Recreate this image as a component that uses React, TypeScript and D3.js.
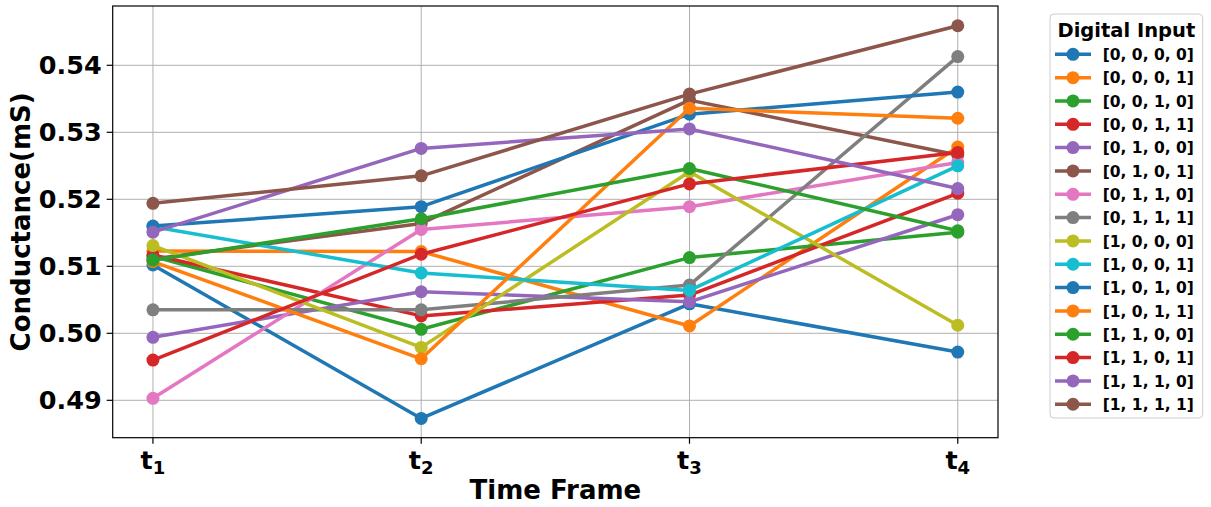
import React from "react";
import * as d3 from "d3";

const timeLabels = ["1", "2", "3", "4"];
const seriesNames = [
  "[0, 0, 0, 0]", "[0, 0, 0, 1]", "[0, 0, 1, 0]", "[0, 0, 1, 1]",
  "[0, 1, 0, 0]", "[0, 1, 0, 1]", "[0, 1, 1, 0]", "[0, 1, 1, 1]",
  "[1, 0, 0, 0]", "[1, 0, 0, 1]", "[1, 0, 1, 0]", "[1, 0, 1, 1]",
  "[1, 1, 0, 0]", "[1, 1, 0, 1]", "[1, 1, 1, 0]", "[1, 1, 1, 1]",
];
const s0000 = [0.5102, 0.4873, 0.5044, 0.4972];
const s0001 = [0.5123, 0.5122, 0.5011, 0.5278];
const s0010 = [0.5115, 0.5006, 0.5113, 0.5151];
const s0011 = [0.5117, 0.5026, 0.5057, 0.5209];
const s0100 = [0.4994, 0.5062, 0.5047, 0.5177];
const s0101 = [0.5111, 0.5164, 0.5348, 0.5266];
const s0110 = [0.4903, 0.5155, 0.5189, 0.5255];
const s0111 = [0.5035, 0.5035, 0.5072, 0.5413];
const s1000 = [0.5131, 0.4979, 0.5241, 0.5012];
const s1001 = [0.5159, 0.5090, 0.5064, 0.5250];
const s1010 = [0.5160, 0.5189, 0.5327, 0.5360];
const s1011 = [0.5107, 0.4962, 0.5336, 0.5321];
const s1100 = [0.5109, 0.5171, 0.5246, 0.5153];
const s1101 = [0.4960, 0.5118, 0.5223, 0.5270];
const s1110 = [0.5151, 0.5276, 0.5305, 0.5216];
const s1111 = [0.5194, 0.5235, 0.5357, 0.5459];
const seriesValues = [
  s0000, s0001, s0010, s0011, s0100, s0101, s0110, s0111,
  s1000, s1001, s1010, s1011, s1100, s1101, s1110, s1111,
];
const yTicks = [0.49, 0.5, 0.51, 0.52, 0.53, 0.54];

const W = 1211;
const H = 507;
const FONT = "'DejaVu Sans', sans-serif";

export default function App() {
  const left = 112.7, right = 998, top = 6, bottom = 437.7;
  const x = d3.scaleLinear().domain([-0.15, 3.15]).range([left, right]);
  const y = d3.scaleLinear().domain([0.48442, 0.54885]).range([bottom, top]);
  const color = d3.scaleOrdinal<number, string>().domain(d3.range(10)).range(d3.schemeCategory10 as string[]);
  const line = d3.line<number>().x((_, i) => x(i)).y((v) => y(v));

  const legX = 1050, legY = 14, legW = 152.7, legH = 404;
  const entryY0 = 54.3, entryStep = 23.33;

  return (
    <svg width={W} height={H} style={{ position: "absolute", left: 0, top: 0 }} fontFamily={FONT}>
      <rect x={0} y={0} width={W} height={H} fill="white" />
      {/* grid */}
      {timeLabels.map((_, i) => (
        <line key={"gx" + i} x1={x(i)} x2={x(i)} y1={top} y2={bottom} stroke="#b0b0b0" strokeWidth={1} />
      ))}
      {yTicks.map((t) => (
        <line key={"gy" + t} x1={left} x2={right} y1={y(t)} y2={y(t)} stroke="#b0b0b0" strokeWidth={1} />
      ))}
      {/* series */}
      {seriesValues.map((vals, si) => (
        <g key={"s" + si}>
          <path d={line(vals) || ""} fill="none" stroke={color(si % 10)} strokeWidth={3.5} strokeLinejoin="round" />
          {vals.map((v, i) => (
            <circle key={i} cx={x(i)} cy={y(v)} r={6.5} fill={color(si % 10)} />
          ))}
        </g>
      ))}
      {/* spines */}
      <rect x={left} y={top} width={right - left} height={bottom - top} fill="none" stroke="black" strokeWidth={1.2} />
      {/* y ticks */}
      {yTicks.map((t) => (
        <g key={"yt" + t}>
          <line x1={left - 6} x2={left} y1={y(t)} y2={y(t)} stroke="black" strokeWidth={1.2} />
          <text x={left - 11} y={y(t)} dy="0.36em" textAnchor="end" fontSize={25.5} fontWeight="bold">
            {t.toFixed(2)}
          </text>
        </g>
      ))}
      {/* x ticks */}
      {timeLabels.map((lab, i) => (
        <g key={"xt" + i}>
          <line x1={x(i)} x2={x(i)} y1={bottom} y2={bottom + 6} stroke="black" strokeWidth={1.2} />
          <text x={x(i)} y={469} textAnchor="middle" fontSize={25.5} fontWeight="bold">
            t<tspan fontSize={18} dy={5}>{lab}</tspan>
          </text>
        </g>
      ))}
      {/* axis labels */}
      <text x={(left + right) / 2} y={499} textAnchor="middle" fontSize={26} fontWeight="bold">
        Time Frame
      </text>
      <text
        transform={`translate(30, ${(top + bottom) / 2}) rotate(-90)`}
        textAnchor="middle"
        fontSize={26}
        fontWeight="bold"
      >
        Conductance(mS)
      </text>
      {/* legend */}
      <rect x={legX} y={legY} width={legW} height={legH} rx={4} fill="white" fillOpacity={0.8} stroke="#cccccc" strokeWidth={1} />
      <text x={legX + legW / 2} y={legY + 23} textAnchor="middle" fontSize={19.5} fontWeight="bold">
        Digital Input
      </text>
      {seriesNames.map((name, si) => {
        const ey = entryY0 + si * entryStep;
        return (
          <g key={"l" + si}>
            <line x1={1055} x2={1091} y1={ey} y2={ey} stroke={color(si % 10)} strokeWidth={3.5} />
            <circle cx={1073} cy={ey} r={6.5} fill={color(si % 10)} />
            <text x={1102.7} y={ey} dy="0.36em" fontSize={15.5} fontWeight="bold">
              {name}
            </text>
          </g>
        );
      })}
    </svg>
  );
}
